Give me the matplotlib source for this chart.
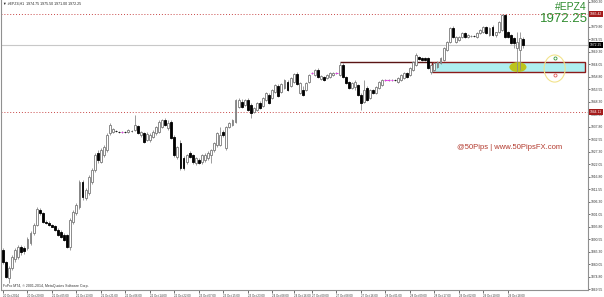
import numpy as np
import matplotlib
matplotlib.use("Agg")
import matplotlib.pyplot as plt
from matplotlib.patches import Rectangle, Ellipse

plt.rcParams['font.family'] = ['Liberation Sans', 'DejaVu Sans']

# H1 candles, #EPZ4, 20 Oct - 29 Oct 2014
opens = [
    1886.1, 1881.1, 1874.3, 1878.5, 1882.0, 1883.2, 1887.4, 1887.0, 1886.9, 1889.0,
    1893.2, 1896.6, 1902.9, 1901.6, 1897.9, 1897.4, 1896.6, 1896.2, 1894.5, 1893.7,
    1892.4, 1892.4, 1887.4, 1897.9, 1901.6, 1904.2, 1914.7, 1907.9, 1910.0, 1914.7,
    1919.7, 1926.8, 1923.1, 1926.0, 1928.1, 1935.2, 1935.7, 1936.1, 1935.7, 1935.7,
    1935.6, 1935.7, 1936.1, 1936.5, 1938.2, 1934.4, 1935.2, 1932.3, 1932.3, 1933.6,
    1935.2, 1935.7, 1937.8, 1940.7, 1937.3, 1939.9, 1933.6, 1925.2, 1931.0, 1924.7,
    1923.1, 1926.8, 1926.0, 1922.6, 1923.9, 1923.1, 1923.9, 1924.7, 1926.0, 1928.1,
    1930.2, 1930.2, 1935.7, 1928.9, 1937.8, 1938.6, 1939.9, 1946.2, 1948.3, 1947.0,
    1949.1, 1947.0, 1944.1, 1944.9, 1947.8, 1946.6, 1949.1, 1951.2, 1949.9, 1952.5,
    1955.0, 1952.5, 1954.1, 1956.7, 1955.0, 1956.7, 1960.0, 1952.0, 1953.3, 1953.3,
    1956.7, 1960.4, 1959.6, 1961.7, 1957.9, 1958.8, 1958.3, 1958.8, 1959.6, 1960.4,
    1959.6, 1963.8, 1958.8, 1956.7, 1954.1, 1954.5, 1955.4, 1951.2, 1948.3, 1954.1,
    1949.9, 1953.3, 1952.0, 1954.1, 1955.4, 1957.5, 1957.5, 1957.5, 1957.5, 1956.7,
    1957.5, 1958.3, 1960.4, 1959.6, 1961.7, 1963.8, 1967.2, 1966.7, 1966.7, 1966.7,
    1960.9, 1961.7, 1963.0, 1964.6, 1965.9, 1970.1, 1973.5, 1979.3, 1973.5, 1974.3,
    1975.6, 1977.2, 1975.6, 1976.0, 1976.0, 1975.6, 1977.2, 1977.7, 1979.8, 1976.4,
    1979.8, 1976.4, 1977.7, 1978.5, 1984.8, 1977.7, 1976.4, 1975.1, 1970.9, 1970.1,
    1974.75,
]
highs = [
    1886.9, 1881.3, 1879.4, 1884.0, 1886.9, 1888.0, 1888.0, 1887.8, 1891.6, 1894.0,
    1897.4, 1904.2, 1903.7, 1902.1, 1898.7, 1898.2, 1897.0, 1896.6, 1895.3, 1894.5,
    1893.2, 1892.8, 1899.5, 1902.9, 1905.8, 1915.4, 1915.4, 1912.1, 1917.6, 1920.5,
    1926.8, 1928.1, 1928.9, 1930.2, 1935.2, 1939.4, 1937.3, 1936.5, 1936.1, 1936.1,
    1936.0, 1936.9, 1936.5, 1942.8, 1938.6, 1936.1, 1935.7, 1935.7, 1935.2, 1936.5,
    1938.2, 1940.7, 1941.1, 1941.5, 1940.7, 1940.7, 1934.4, 1929.8, 1932.3, 1925.6,
    1926.4, 1927.7, 1926.4, 1925.2, 1924.7, 1926.4, 1926.8, 1927.7, 1928.5, 1931.5,
    1935.7, 1937.8, 1936.5, 1938.2, 1939.9, 1941.1, 1949.5, 1949.9, 1949.5, 1949.5,
    1949.9, 1947.8, 1946.2, 1948.3, 1948.7, 1950.4, 1952.5, 1952.0, 1953.7, 1955.8,
    1955.8, 1956.2, 1957.9, 1957.5, 1958.8, 1960.4, 1960.9, 1956.7, 1955.0, 1956.7,
    1960.0, 1960.9, 1962.1, 1962.5, 1959.6, 1959.2, 1960.0, 1960.9, 1960.9, 1960.9,
    1965.1, 1964.6, 1959.2, 1957.1, 1956.7, 1957.5, 1955.8, 1952.0, 1957.5, 1955.0,
    1953.7, 1953.7, 1954.9, 1957.1, 1957.9, 1957.9, 1957.9, 1957.9, 1957.9, 1958.8,
    1960.0, 1960.9, 1960.9, 1962.9, 1965.5, 1968.8, 1967.6, 1967.2, 1967.2, 1967.2,
    1964.2, 1965.1, 1965.5, 1967.2, 1971.4, 1973.9, 1979.8, 1980.2, 1976.0, 1976.0,
    1977.7, 1977.7, 1976.8, 1976.4, 1976.4, 1977.7, 1978.9, 1980.2, 1980.2, 1979.8,
    1980.6, 1977.7, 1982.3, 1985.2, 1985.2, 1978.1, 1976.8, 1975.6, 1977.7, 1977.7,
    1975.50,
]
lows = [
    1880.2, 1874.3, 1872.2, 1877.7, 1881.1, 1882.3, 1884.0, 1884.4, 1886.1, 1888.2,
    1892.4, 1896.2, 1900.8, 1897.4, 1897.0, 1896.2, 1895.7, 1894.0, 1892.0, 1891.2,
    1889.9, 1886.9, 1886.1, 1897.0, 1900.8, 1903.3, 1907.0, 1907.0, 1909.2, 1913.8,
    1918.8, 1922.6, 1922.6, 1925.2, 1927.2, 1934.4, 1935.2, 1935.7, 1935.2, 1935.2,
    1935.2, 1935.2, 1935.7, 1936.1, 1934.8, 1933.6, 1931.0, 1931.9, 1931.5, 1933.1,
    1934.4, 1935.2, 1937.3, 1938.2, 1936.5, 1932.7, 1925.2, 1924.3, 1919.7, 1919.7,
    1922.2, 1924.7, 1922.2, 1921.8, 1922.2, 1922.2, 1923.1, 1923.9, 1922.6, 1927.2,
    1929.4, 1929.8, 1933.6, 1928.1, 1937.3, 1938.2, 1939.4, 1945.7, 1945.7, 1946.6,
    1944.5, 1941.5, 1943.6, 1944.5, 1945.3, 1946.2, 1948.7, 1947.4, 1949.5, 1952.0,
    1950.4, 1952.0, 1953.7, 1952.9, 1954.5, 1956.2, 1955.4, 1951.6, 1950.8, 1952.9,
    1956.2, 1960.0, 1959.2, 1958.3, 1957.5, 1957.1, 1957.9, 1958.3, 1959.2, 1960.0,
    1959.2, 1958.3, 1955.8, 1953.7, 1953.7, 1953.3, 1950.8, 1944.9, 1947.8, 1948.7,
    1949.5, 1951.6, 1951.6, 1953.7, 1955.0, 1957.1, 1957.1, 1957.1, 1957.1, 1956.2,
    1957.1, 1957.9, 1958.3, 1959.2, 1961.3, 1963.4, 1965.9, 1965.5, 1965.5, 1962.1,
    1960.0, 1961.3, 1962.5, 1964.2, 1965.5, 1969.7, 1973.0, 1975.1, 1973.0, 1973.9,
    1975.1, 1975.1, 1975.1, 1975.6, 1975.6, 1975.1, 1976.8, 1977.2, 1976.8, 1976.0,
    1976.0, 1975.6, 1977.2, 1978.1, 1975.1, 1975.1, 1972.6, 1970.9, 1960.9, 1961.7,
    1971.00,
]
closes = [
    1881.1, 1874.8, 1878.5, 1883.2, 1886.1, 1887.4, 1885.2, 1885.4, 1890.7, 1893.2,
    1896.6, 1903.3, 1901.6, 1897.9, 1897.4, 1896.6, 1895.8, 1894.5, 1892.4, 1891.6,
    1890.3, 1887.4, 1898.7, 1902.1, 1905.0, 1914.7, 1908.4, 1911.3, 1916.8, 1919.7,
    1926.0, 1923.9, 1928.1, 1929.4, 1934.4, 1938.6, 1936.9, 1936.0, 1935.6, 1935.7,
    1935.5, 1936.5, 1936.0, 1938.6, 1935.2, 1935.7, 1931.5, 1934.8, 1934.4, 1935.7,
    1937.8, 1939.9, 1940.7, 1938.6, 1939.4, 1933.1, 1926.0, 1929.4, 1920.5, 1920.5,
    1926.0, 1925.2, 1923.1, 1924.7, 1922.6, 1926.0, 1926.0, 1926.8, 1928.1, 1931.0,
    1935.2, 1934.4, 1934.4, 1937.8, 1939.4, 1940.7, 1949.1, 1949.1, 1946.2, 1949.1,
    1944.9, 1943.6, 1945.7, 1947.8, 1945.7, 1949.9, 1952.0, 1947.8, 1953.3, 1955.4,
    1950.8, 1955.8, 1957.5, 1953.3, 1958.3, 1960.0, 1955.8, 1956.2, 1951.2, 1956.2,
    1959.6, 1960.4, 1961.7, 1958.8, 1959.2, 1957.5, 1959.6, 1960.4, 1960.4, 1960.4,
    1963.8, 1958.8, 1956.2, 1954.1, 1956.2, 1956.7, 1951.2, 1947.8, 1953.3, 1949.1,
    1953.3, 1952.0, 1954.5, 1956.7, 1957.5, 1957.5, 1957.5, 1957.5, 1957.4, 1958.3,
    1959.6, 1960.4, 1958.8, 1962.5, 1965.1, 1968.0, 1966.3, 1965.9, 1965.9, 1962.5,
    1963.8, 1964.6, 1965.1, 1966.7, 1970.9, 1973.5, 1979.3, 1975.6, 1975.6, 1975.6,
    1977.2, 1975.6, 1976.4, 1976.1, 1975.9, 1977.2, 1978.5, 1979.8, 1977.2, 1979.3,
    1976.4, 1977.7, 1981.9, 1984.8, 1975.6, 1975.6, 1973.0, 1973.0, 1973.5, 1975.1,
    1972.25,
]

# date labels on the time axis (bar index, text)
xtick_bars = [0, 8, 16, 24, 32, 40, 48, 56, 64, 72, 80, 88, 95,
              101, 109, 117, 125, 133, 141, 149, 157, 165]
xtick_text = ["20 Oct 2014", "20 Oct 20:00", "21 Oct 05:00", "21 Oct 13:00",
              "21 Oct 21:00", "22 Oct 06:00", "22 Oct 14:00", "22 Oct 22:00",
              "23 Oct 07:00", "23 Oct 15:00", "23 Oct 23:00", "24 Oct 08:00",
              "24 Oct 16:00", "27 Oct 00:00", "27 Oct 08:00", "27 Oct 16:00",
              "28 Oct 01:00", "28 Oct 09:00", "28 Oct 17:00", "29 Oct 02:00",
              "29 Oct 10:00", "29 Oct 18:00"]

# price scale labels
ytick_vals = [1869.55, 1874.80, 1880.05, 1885.30, 1890.55, 1895.80, 1901.05, 1906.30,
              1911.55, 1916.80, 1922.05, 1927.30, 1932.55, 1937.80, 1943.05, 1948.30,
              1953.55, 1958.80, 1964.05, 1969.30, 1974.55, 1979.80, 1985.05, 1990.30]

# levels and drawn objects
res_level = 1985.42
sup_level = 1944.11
last_price = 1972.25
zone_top, zone_bot = 1965.05, 1960.84
zone_start, zone_end = 140.2, 190.3
line_start = 110

W, H = 604, 297
fig = plt.figure(figsize=(W / 100, H / 100), dpi=100)
ax = fig.add_axes([1 / W, 7 / H, 587 / W, 290 / H])

o = np.array(opens); hi = np.array(highs); lo = np.array(lows); c = np.array(closes)
x = np.arange(len(o))
up = c > o
dn = c < o
dj = c == o

# levels
ax.axhline(res_level, color='#c84848', lw=0.7, ls=(0, (1, 2)), zorder=1)
ax.axhline(sup_level, color='#c84848', lw=0.7, ls=(0, (1, 2)), zorder=1)
ax.axhline(last_price, color='#c8c8c8', lw=0.8, zorder=1)

# demand zone
ax.add_patch(Rectangle((zone_start, zone_bot), zone_end - zone_start, zone_top - zone_bot,
                       facecolor='#aeeef0', edgecolor='#8b1a1a', lw=1.0, zorder=2))
ax.hlines(zone_top, line_start, zone_start, color='#5a1414', lw=1.0, zorder=2)

# markers
ax.add_patch(Ellipse((168.3, 1962.9), 5.6, 4.2, facecolor='#bcc41c', edgecolor='none', zorder=2.5))
ax.add_patch(Ellipse((180.3, 1962.3), 6.9, 11.4, facecolor='none', edgecolor='#f2e38c', lw=0.8, zorder=2.5))
ax.plot(180.3, 1966.7, marker='o', ms=2.2, mfc='none', mec='#3a9a3a', mew=0.6, zorder=3)
ax.plot(180.3, 1959.4, marker='o', ms=2.2, mfc='none', mec='#e05858', mew=0.6, zorder=3)

# candles
ax.vlines(x, lo, hi, color='#8c8c8c', lw=0.6, zorder=3)
ax.bar(x[up], (c - o)[up], bottom=o[up], width=0.62, facecolor='white',
       edgecolor='#7a7a7a', lw=0.6, zorder=4)
ax.bar(x[dn], (o - c)[dn], bottom=c[dn], width=0.62, facecolor='black',
       edgecolor='black', lw=0.6, zorder=4)
ax.hlines(o[dj], x[dj] - 0.35, x[dj] + 0.35, color='#e040e0', lw=0.8, zorder=4)

ax.set_xlim(-0.654, 191.2)
ax.set_ylim(1869.13, 1991.13)

ax.yaxis.tick_right()
ax.set_yticks(ytick_vals)
ax.set_yticklabels([f"{v:.2f}" for v in ytick_vals])
ax.tick_params(axis='y', length=1.5, width=0.5, pad=0.5, labelsize=2.4, colors='#333333')
ax.set_xticks(xtick_bars)
ax.set_xticklabels(xtick_text, ha='left')
ax.tick_params(axis='x', length=2, width=0.5, pad=0.6, labelsize=2.1, colors='#333333')
for s in ['left', 'right', 'bottom']:
    ax.spines[s].set_color('#909090')
    ax.spines[s].set_linewidth(0.8)
ax.spines['top'].set_visible(False)

# price tags on the scale
tr = ax.get_yaxis_transform()
for val, col in [(res_level, '#a41c1c'), (sup_level, '#a41c1c'), (last_price, 'black')]:
    ax.text(1.003, val, f"{val:.2f}", transform=tr, fontsize=2.4, color='white',
            ha='left', va='center', zorder=6,
            bbox=dict(boxstyle='square,pad=0.3', fc=col, ec='none'))

# texts
fig.text(3 / W, 1 - 4 / H, "\u25bc #EPZ4,H1  1974.75 1975.50 1971.00 1972.25",
         fontsize=2.6, color='#222222', va='center', ha='left')
fig.text(3 / W, 1 - 286 / H, "FxPro MT4, \u00a9 2001-2014, MetaQuotes Software Corp.",
         fontsize=2.5, color='#333333', va='center', ha='left')
fig.text(457 / W, 1 - 147 / H, "@50Pips | www.50PipsFX.com", fontsize=5.5,
         color='#b33a2e', va='center', ha='left')
fig.text(587 / W, 1 - 7 / H, "#EPZ4", fontsize=7.5, color='#2e8b2e', va='center', ha='right')
fig.text(588 / W, 1 - 19 / H, "1972.25", fontsize=9.5, color='#2e8b2e', va='center', ha='right')

fig.savefig("out.png", dpi=100, facecolor='white')
